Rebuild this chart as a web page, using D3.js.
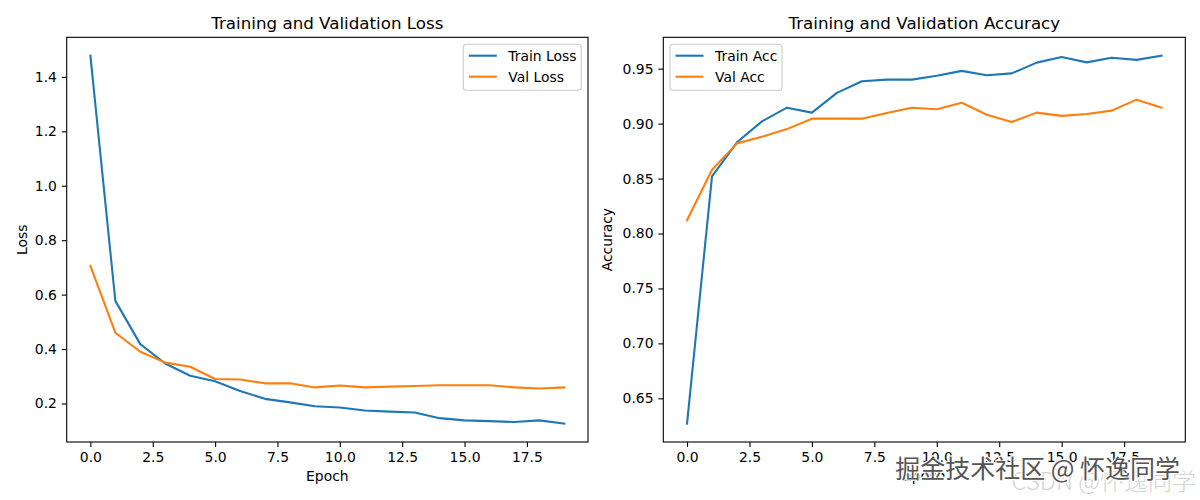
<!DOCTYPE html>
<html>
<head>
<meta charset="utf-8">
<script src="https://cdn.jsdelivr.net/npm/d3@7"></script>
<style>
  body { margin: 0; background: #fff; }
  svg text { font-family: "DejaVu Sans", sans-serif; }
</style>
</head>
<body>
<div id="chart"></div>
<script>
// Data
var epochs = d3.range(0, 20);

var trainLoss = [1.478, 0.577, 0.418, 0.347, 0.302, 0.282, 0.246, 0.217, 0.204, 0.190,
                 0.185, 0.174, 0.170, 0.167, 0.146, 0.138, 0.135, 0.132, 0.138, 0.126];
var valLoss   = [0.706, 0.460, 0.390, 0.350, 0.335, 0.290, 0.288, 0.274, 0.274, 0.259,
                 0.266, 0.259, 0.262, 0.264, 0.267, 0.267, 0.267, 0.259, 0.255, 0.259];

var trainAcc  = [0.627, 0.852, 0.883, 0.902, 0.9145, 0.910, 0.928, 0.9385, 0.940, 0.940,
                 0.9436, 0.948, 0.944, 0.9457, 0.9555, 0.9606, 0.9557, 0.960, 0.958, 0.9618];
var valAcc    = [0.812, 0.858, 0.882, 0.888, 0.895, 0.9045, 0.9045, 0.9045, 0.9097, 0.9145,
                 0.913, 0.919, 0.908, 0.9015, 0.910, 0.907, 0.9087, 0.9118, 0.9218, 0.9145];

var xTicks = [0, 2.5, 5, 7.5, 10, 12.5, 15, 17.5];
var lossTicks = [0.2, 0.4, 0.6, 0.8, 1.0, 1.2, 1.4];
var accTicks = [0.65, 0.70, 0.75, 0.80, 0.85, 0.90, 0.95];

var width = 1200;
var height = 500;
var blue = "#1f77b4";
var orange = "#ff7f0e";

var svg = d3.select("#chart")
    .append("svg")
    .attr("width", width)
    .attr("height", height);

// matplotlib style: 5% margin around the data
function padded(values) {
    var lo = d3.min(values), hi = d3.max(values);
    var m = (hi - lo) * 0.05;
    return [lo - m, hi + m];
}

function drawPanel(opts) {
    var left = opts.left, right = opts.right, top = 37.3, bottom = 442;

    var x = d3.scaleLinear()
        .domain(padded(epochs))
        .range([left, right]);

    var y = d3.scaleLinear()
        .domain(padded(opts.train.concat(opts.val)))
        .range([bottom, top]);

    var g = svg.append("g");

    // Axes
    var xAxis = d3.axisBottom(x)
        .tickValues(xTicks)
        .tickFormat(d3.format(".1f"))
        .tickSize(4.9)
        .tickSizeOuter(0)
        .tickPadding(4.9);

    var yAxis = d3.axisLeft(y)
        .tickValues(opts.yTicks)
        .tickFormat(d3.format(opts.yFormat))
        .tickSize(4.9)
        .tickSizeOuter(0)
        .tickPadding(4.9);

    var gx = g.append("g")
        .attr("transform", "translate(0," + bottom + ")")
        .call(xAxis);
    var gy = g.append("g")
        .attr("transform", "translate(" + left + ",0)")
        .call(yAxis);

    [gx, gy].forEach(function(a) {
        a.select(".domain").remove();
        a.selectAll(".tick line").attr("stroke", "#000").attr("stroke-width", 1.1);
        a.selectAll(".tick text")
            .style("font-family", "DejaVu Sans")
            .style("font-size", "13.9px")
            .style("fill", "#000");
    });

    // Lines
    var line = function(vals) {
        return d3.line()
            .x(function(d, i) { return x(epochs[i]); })
            .y(function(d) { return y(d); })(vals);
    };

    g.append("path")
        .attr("d", line(opts.train))
        .attr("fill", "none")
        .attr("stroke", blue)
        .attr("stroke-width", 2.1)
        .attr("stroke-linejoin", "round")
        .attr("stroke-linecap", "square");

    g.append("path")
        .attr("d", line(opts.val))
        .attr("fill", "none")
        .attr("stroke", orange)
        .attr("stroke-width", 2.1)
        .attr("stroke-linejoin", "round")
        .attr("stroke-linecap", "square");

    // Frame
    g.append("rect")
        .attr("x", left)
        .attr("y", top)
        .attr("width", right - left)
        .attr("height", bottom - top)
        .attr("fill", "none")
        .attr("stroke", "#000")
        .attr("stroke-width", 1.1);

    // Title and labels
    g.append("text")
        .attr("x", (left + right) / 2)
        .attr("y", 29)
        .attr("text-anchor", "middle")
        .style("font-size", "16.7px")
        .text(opts.title);

    g.append("text")
        .attr("x", (left + right) / 2)
        .attr("y", 481)
        .attr("text-anchor", "middle")
        .style("font-size", "13.9px")
        .text("Epoch");

    g.append("text")
        .attr("transform", "translate(" + opts.yLabelX + "," + ((top + bottom) / 2) + ") rotate(-90)")
        .attr("text-anchor", "middle")
        .style("font-size", "13.9px")
        .text(opts.yLabel);

    // Legend
    var lg = g.append("g").attr("transform", "translate(" + opts.legendX + ",44.3)");
    lg.append("rect")
        .attr("width", opts.legendW)
        .attr("height", 46)
        .attr("rx", 3)
        .attr("fill", "#fff")
        .attr("fill-opacity", 0.8)
        .attr("stroke", "#cccccc")
        .attr("stroke-width", 1.1);

    var items = [{name: opts.names[0], color: blue}, {name: opts.names[1], color: orange}];
    items.forEach(function(d, i) {
        var yy = 11.4 + i * 21;
        lg.append("line")
            .attr("x1", 5.5).attr("x2", 33.5)
            .attr("y1", yy).attr("y2", yy)
            .attr("stroke", d.color)
            .attr("stroke-width", 2.1);
        lg.append("text")
            .attr("x", 45)
            .attr("y", yy + 5)
            .style("font-size", "13.9px")
            .text(d.name);
    });
}

drawPanel({
    left: 66.7, right: 588,
    train: trainLoss, val: valLoss,
    yTicks: lossTicks, yFormat: ".1f",
    title: "Training and Validation Loss",
    yLabel: "Loss", yLabelX: 26.5,
    legendX: 463.3, legendW: 118,
    names: ["Train Loss", "Val Loss"]
});

drawPanel({
    left: 663.3, right: 1185.3,
    train: trainAcc, val: valAcc,
    yTicks: accTicks, yFormat: ".2f",
    title: "Training and Validation Accuracy",
    yLabel: "Accuracy", yLabelX: 612,
    legendX: 670, legendW: 112,
    names: ["Train Acc", "Val Acc"]
});

// Watermarks (they sit on top of the tick labels in the original too)
svg.append("text")
    .attr("x", 1196)
    .attr("y", 490)
    .attr("text-anchor", "end")
    .style("font-family", "Noto Sans CJK SC")
    .style("font-weight", 300)
    .style("font-size", "24px")
    .style("fill", "#d4d4d4")
    .text("CSDN @怀逸同学");

svg.append("text")
    .attr("x", 1180)
    .attr("y", 478)
    .attr("text-anchor", "end")
    .style("font-family", "Noto Sans CJK SC")
    .style("font-size", "25px")
    .style("paint-order", "stroke")
    .style("fill", "#555")
    .style("stroke", "#fff")
    .style("stroke-width", 2.5)
    .text("掘金技术社区 @ 怀逸同学");
</script>
</body>
</html>
